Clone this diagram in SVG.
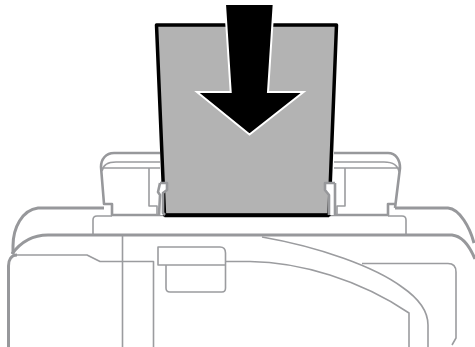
<svg xmlns="http://www.w3.org/2000/svg" width="475" height="347" viewBox="0 0 475 347">
<style>
.a{fill:none;stroke:#97989b;stroke-width:3;stroke-linejoin:round}
.b{fill:none;stroke:#9b9c9f;stroke-width:1.600;stroke-linejoin:round}
.c{fill:none;stroke:#97989b;stroke-width:2.600;stroke-linejoin:round}
</style>
<rect width="475" height="347" fill="#fff"/>
<path class="c" d="M160 153H114C106 153 101 159 101 167L104 204H112V215H388V204H395M334 153H388C396 153 400 160 400 168L395 208"/>
<path class="b" d="M102 171C103 165 108 162 116 162H160M102 168H160M149 168V206H157V215M334 162H384C392 162 398 165 399 172M334 168H399M345 168V206H337V215"/>
<path class="a" d="M104 208H38C22 210 13 228 13 246V254M395 208H448C460 209 470 228 474 243"/>
<path class="b" d="M93 235V220Q93 216 97 216H112M388 216H402Q406 216 406 220V235"/>
<path class="a" d="M12 254C20 243 32 235 48 235H452C462 236 470 247 475 259"/>
<path class="a" d="M8.500 347V266C8.500 260 11 255 17 255"/>
<path class="b" d="M17 255H87L100 261.500H153.500V347M122.500 236V347"/>
<path class="b" d="M158 247H220Q225.500 247 225.500 253V265H158ZM166 265V288Q166 292 170 292H222Q225.500 292 225.500 288V265M226 261.500H250C300 262 360 280 409 313V347M262 237C320 247 375 267 402 287C418 298 428 310 428 325V347M362 263.500H448Q456 263.500 456 272V338L452 345"/>
<path d="M156.500 25H336.500L329 215H164.500Z" fill="#b3b3b3" stroke="#000" stroke-width="3.500" stroke-linejoin="round"/>
<path d="M160 183H167V190L163 193V213L165 215H159L160 195 158 192Z" fill="#fff" stroke="none"/>
<path d="M325 183H335V215H329V195L325 190Z" fill="#fff" stroke="none"/>
<path d="M164.500 215.500H329" stroke="#000" stroke-width="3.500" fill="none"/>
<path class="c" d="M160 183H167V190L163 193V213L165 215M160 183 158 192 160 195 159 215M335 183H325V190L329 195V215M335 183V215"/>
<path d="M225 4H273.700L268 92H303.500L249.500 134.500 197 92H230.700Z" fill="#000" stroke="#fff" stroke-width="2" stroke-linejoin="miter"/>
<rect x="220" y="0" width="60" height="3.500" fill="#fff"/>
</svg>
